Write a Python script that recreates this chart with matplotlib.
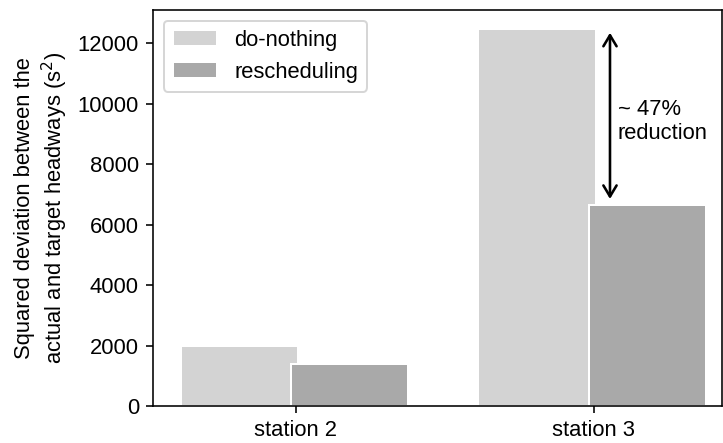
import matplotlib.pyplot as plt
import numpy as np

plt.rcParams['font.family'] = ['Liberation Sans', 'DejaVu Sans']
plt.rcParams['font.size'] = 11

# data
stations = ['station 2', 'station 3']
do_nothing = [1985, 12480]
rescheduling = [1385, 6650]
reduction_label = '~ 47%\nreduction'

x = np.arange(len(stations))
width = 0.395

fig = plt.figure(figsize=(723 / 144, 443 / 144), dpi=144)
ax = fig.add_axes([153 / 723, 1 - 406 / 443, 569 / 723, 396 / 443])

ax.bar(x - 0.19, do_nothing, width, color='#d3d3d3', edgecolor='white',
       linewidth=1, label='do-nothing')
ax.bar(x + 0.18, rescheduling, width, color='#a9a9a9', edgecolor='white',
       linewidth=1, label='rescheduling')

# reduction arrow at station 3
ax.annotate('', xy=(1.054, rescheduling[1]), xytext=(1.054, do_nothing[1]),
            arrowprops=dict(arrowstyle='<->,head_length=0.5,head_width=0.3',
                            lw=1.3, color='black', shrinkA=2, shrinkB=3))
ax.text(1.08, 9400, reduction_label, ha='left', va='center')

ax.set_xticks(x)
ax.set_xticklabels(stations)
ax.set_xlim(-0.48, 1.43)
ax.set_ylim(0, 13100)
ax.set_yticks(np.arange(0, 12001, 2000))
ax.set_ylabel('Squared deviation between the\nactual and target headways (s$^2$)')
ax.legend(loc='upper left')

fig.savefig('out.png', dpi=144)
